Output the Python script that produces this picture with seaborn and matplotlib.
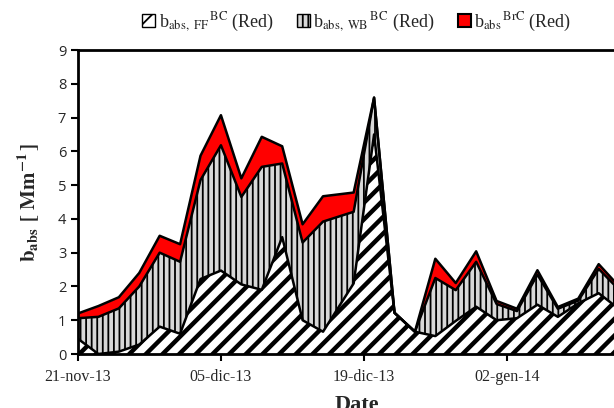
import seaborn as sns
import matplotlib.pyplot as plt
import matplotlib.dates as mdates
from matplotlib.ticker import FuncFormatter
from matplotlib.patches import Patch
import pandas as pd

dates = ['2013-11-21', '2013-11-23', '2013-11-25', '2013-11-27', '2013-11-29',
         '2013-12-01', '2013-12-03', '2013-12-05', '2013-12-07', '2013-12-09',
         '2013-12-11', '2013-12-13', '2013-12-15', '2013-12-18', '2013-12-20',
         '2013-12-22', '2013-12-24', '2013-12-26', '2013-12-28', '2013-12-30',
         '2014-01-01', '2014-01-03', '2014-01-05', '2014-01-07', '2014-01-09',
         '2014-01-11', '2014-01-13']
babs_ff = [0.45, 0.0, 0.07, 0.28, 0.81, 0.60, 2.22, 2.47, 2.06, 1.90, 3.46, 1.00, 0.66,
           2.09, 6.50, 1.22, 0.66, 0.53, 0.98, 1.40, 1.00, 1.06, 1.46, 1.10, 1.50, 1.80, 1.33]
babs_wb = [0.61, 1.10, 1.28, 1.72, 2.19, 2.13, 2.93, 3.71, 2.59, 3.64, 2.18, 2.30, 3.26,
           2.12, 1.09, 0.0, 0.0, 1.72, 0.91, 1.33, 0.48, 0.21, 0.89, 0.24, 0.08, 0.72, 0.57]
babs_brc = [0.14, 0.32, 0.33, 0.40, 0.50, 0.52, 0.72, 0.89, 0.55, 0.89, 0.51, 0.54, 0.75,
            0.57, 0.0, 0.0, 0.0, 0.57, 0.21, 0.31, 0.09, 0.07, 0.13, 0.05, 0.06, 0.14, 0.10]
tick_dates = ['2013-11-21', '2013-12-05', '2013-12-19', '2014-01-02']
mesi = ['gen', 'feb', 'mar', 'apr', 'mag', 'giu', 'lug', 'ago', 'set', 'ott', 'nov', 'dic']

sns.set_style('ticks')
plt.rcParams['mathtext.fontset'] = 'stix'
plt.rcParams['font.family'] = ['DejaVu Sans']

df = pd.DataFrame({'date': pd.to_datetime(dates), 'ff': babs_ff, 'wb': babs_wb, 'brc': babs_brc})
df['lev1'] = df['ff']
df['lev2'] = df['ff'] + df['wb']
df['lev3'] = df['lev2'] + df['brc']

fig = plt.figure(figsize=(6.14, 4.08), dpi=100)
ax = fig.add_axes([78 / 614, 54 / 408, 1 - 78 / 614, 304 / 408])

plt.rcParams['hatch.linewidth'] = 3.2
ff_area = ax.fill_between(df['date'], 0, df['lev1'], facecolor='white', edgecolor='black',
                          hatch='//', linewidth=0)
plt.rcParams['hatch.linewidth'] = 1.3
wb_area = ax.fill_between(df['date'], df['lev1'], df['lev2'], facecolor='#d8d8d8', edgecolor='black',
                          hatch='|||', linewidth=0)
brc_area = ax.fill_between(df['date'], df['lev2'], df['lev3'], facecolor='#ff0000', linewidth=0)
for a, lw in [(ff_area, 3.2), (wb_area, 1.3)]:
    if hasattr(a, 'set_hatch_linewidth'):
        a.set_hatch_linewidth(lw)

for col in ['lev1', 'lev2', 'lev3']:
    sns.lineplot(data=df, x='date', y=col, ax=ax, color='black', linewidth=1.8, legend=False)

start = pd.Timestamp('2013-11-21')
ax.set_yticks(range(0, 10))
ax.set_xticks(pd.to_datetime(tick_dates))
ax.set_xlim(start, start + pd.Timedelta(days=52.5))
ax.set_ylim(0, 9)


def fmt_data(x, pos):
    d = mdates.num2date(x)
    return '%02d-%s-%02d' % (d.day, mesi[d.month - 1], d.year % 100)


ax.xaxis.set_major_formatter(FuncFormatter(fmt_data))
for lab in ax.get_xticklabels():
    lab.set_family('Liberation Serif')
    lab.set_fontsize(11.5)
for lab in ax.get_yticklabels():
    lab.set_family('Open Sans')
    lab.set_fontsize(10.5)
ax.tick_params(axis='both', direction='out', length=5, width=1.5, color='black')
ax.tick_params(axis='x', pad=6)

for s in ['left', 'bottom', 'top']:
    ax.spines[s].set_linewidth(2)
    ax.spines[s].set_color('black')
ax.spines['right'].set_visible(False)

ax.set_xlabel('Date', fontsize=16, fontweight='bold', family='Liberation Serif')
ax.xaxis.set_label_coords(279 / 536, -0.135)
ax.set_ylabel(r'$\mathbf{b_{abs}}$ $\mathbf{[\ Mm^{-1}\,]}$', fontsize=15, labelpad=12)

handles = [Patch(facecolor='white', edgecolor='black', hatch='//', linewidth=1),
           Patch(facecolor='#d8d8d8', edgecolor='black', hatch='|||', linewidth=1),
           Patch(facecolor='#ff0000', edgecolor='black', linewidth=1.5)]
labels = [r'b$_{\mathrm{abs,\ FF}}$$^{\,\mathrm{BC}}$ (Red)',
          r'b$_{\mathrm{abs,\ WB}}$$^{\,\mathrm{BC}}$ (Red)',
          r'b$_{\mathrm{abs}}$$^{\,\mathrm{BrC}}$ (Red)']
leg = fig.legend(handles, labels, loc='center', bbox_to_anchor=(357 / 614, 1 - 22 / 408), ncol=3,
                 frameon=False, handlelength=0.7, handleheight=0.7, handletextpad=0.2,
                 columnspacing=1.3, prop={'family': 'Liberation Serif', 'size': 13})

fig.savefig('out.png', dpi=100)
